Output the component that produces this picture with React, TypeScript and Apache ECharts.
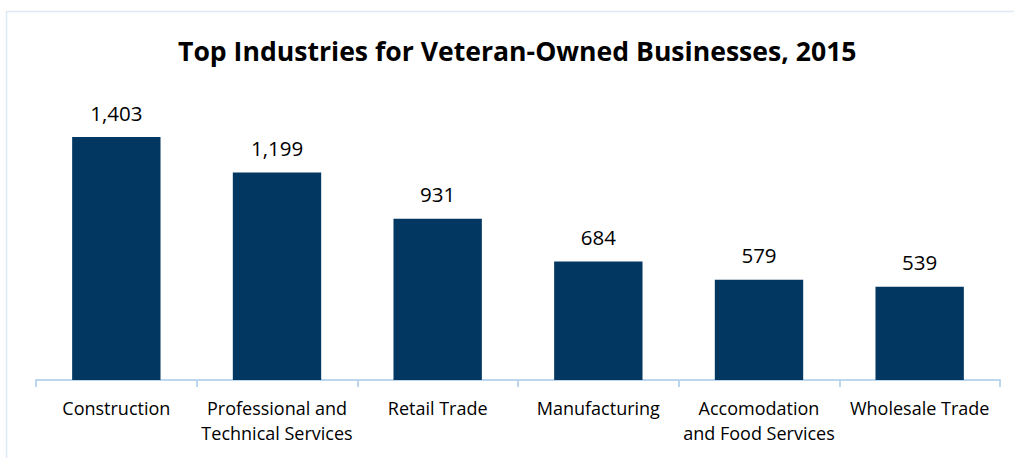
import React, { useEffect, useRef } from "react";
import * as echarts from "echarts";

const categories = [
  "Construction",
  "Professional and\nTechnical Services",
  "Retail Trade",
  "Manufacturing",
  "Accomodation\nand Food Services",
  "Wholesale Trade",
];
const values = [1403, 1199, 931, 684, 579, 539];
const titleText = "Top Industries for Veteran-Owned Businesses, 2015";

export default function App() {
  const ref = useRef<HTMLDivElement>(null);
  useEffect(() => {
    if (!ref.current) return;
    const chart = echarts.init(ref.current, null, { renderer: "svg" });
    const font = "'Open Sans', 'Noto Sans', sans-serif";
    chart.setOption({
      animation: false,
      backgroundColor: "#ffffff",
      title: {
        text: titleText,
        left: 173,
        top: 32,
        textStyle: { fontFamily: font, fontSize: 26.6, fontWeight: "bold", color: "#000" },
      },
      graphic: [
        {
          type: "rect",
          shape: { x: 6.5, y: 11.5, width: 1020, height: 460 },
          style: { fill: "none", stroke: "#dce9f6", lineWidth: 1.5 },
          silent: true,
        },
      ],
      grid: { left: 36, right: 14, top: 103, bottom: 78, containLabel: false },
      xAxis: {
        type: "category",
        data: categories,
        axisLine: { show: true, lineStyle: { color: "#bcd6ee", width: 2 } },
        axisTick: { show: true, alignWithLabel: false, length: 7, lineStyle: { color: "#bcd6ee", width: 2 } },
        axisLabel: {
          interval: 0,
          margin: 15,
          fontFamily: font,
          fontSize: 18,
          color: "#000",
          lineHeight: 25,
        },
      },
      yAxis: {
        type: "value",
        min: 0,
        max: 1600,
        show: false,
        splitLine: { show: false },
      },
      series: [
        {
          type: "bar",
          data: values,
          barWidth: "55%",
          itemStyle: { color: "#023762" },
          label: {
            show: true,
            position: "top",
            distance: 14,
            fontFamily: font,
            fontSize: 20.5,
            color: "#000",
            formatter: (p: any) => Number(p.value).toLocaleString("en-US"),
          },
        },
      ],
    });
    return () => chart.dispose();
  }, []);
  return (
    <div
      ref={ref}
      style={{ position: "fixed", left: 0, top: 0, width: 1014, height: 458 }}
    />
  );
}
